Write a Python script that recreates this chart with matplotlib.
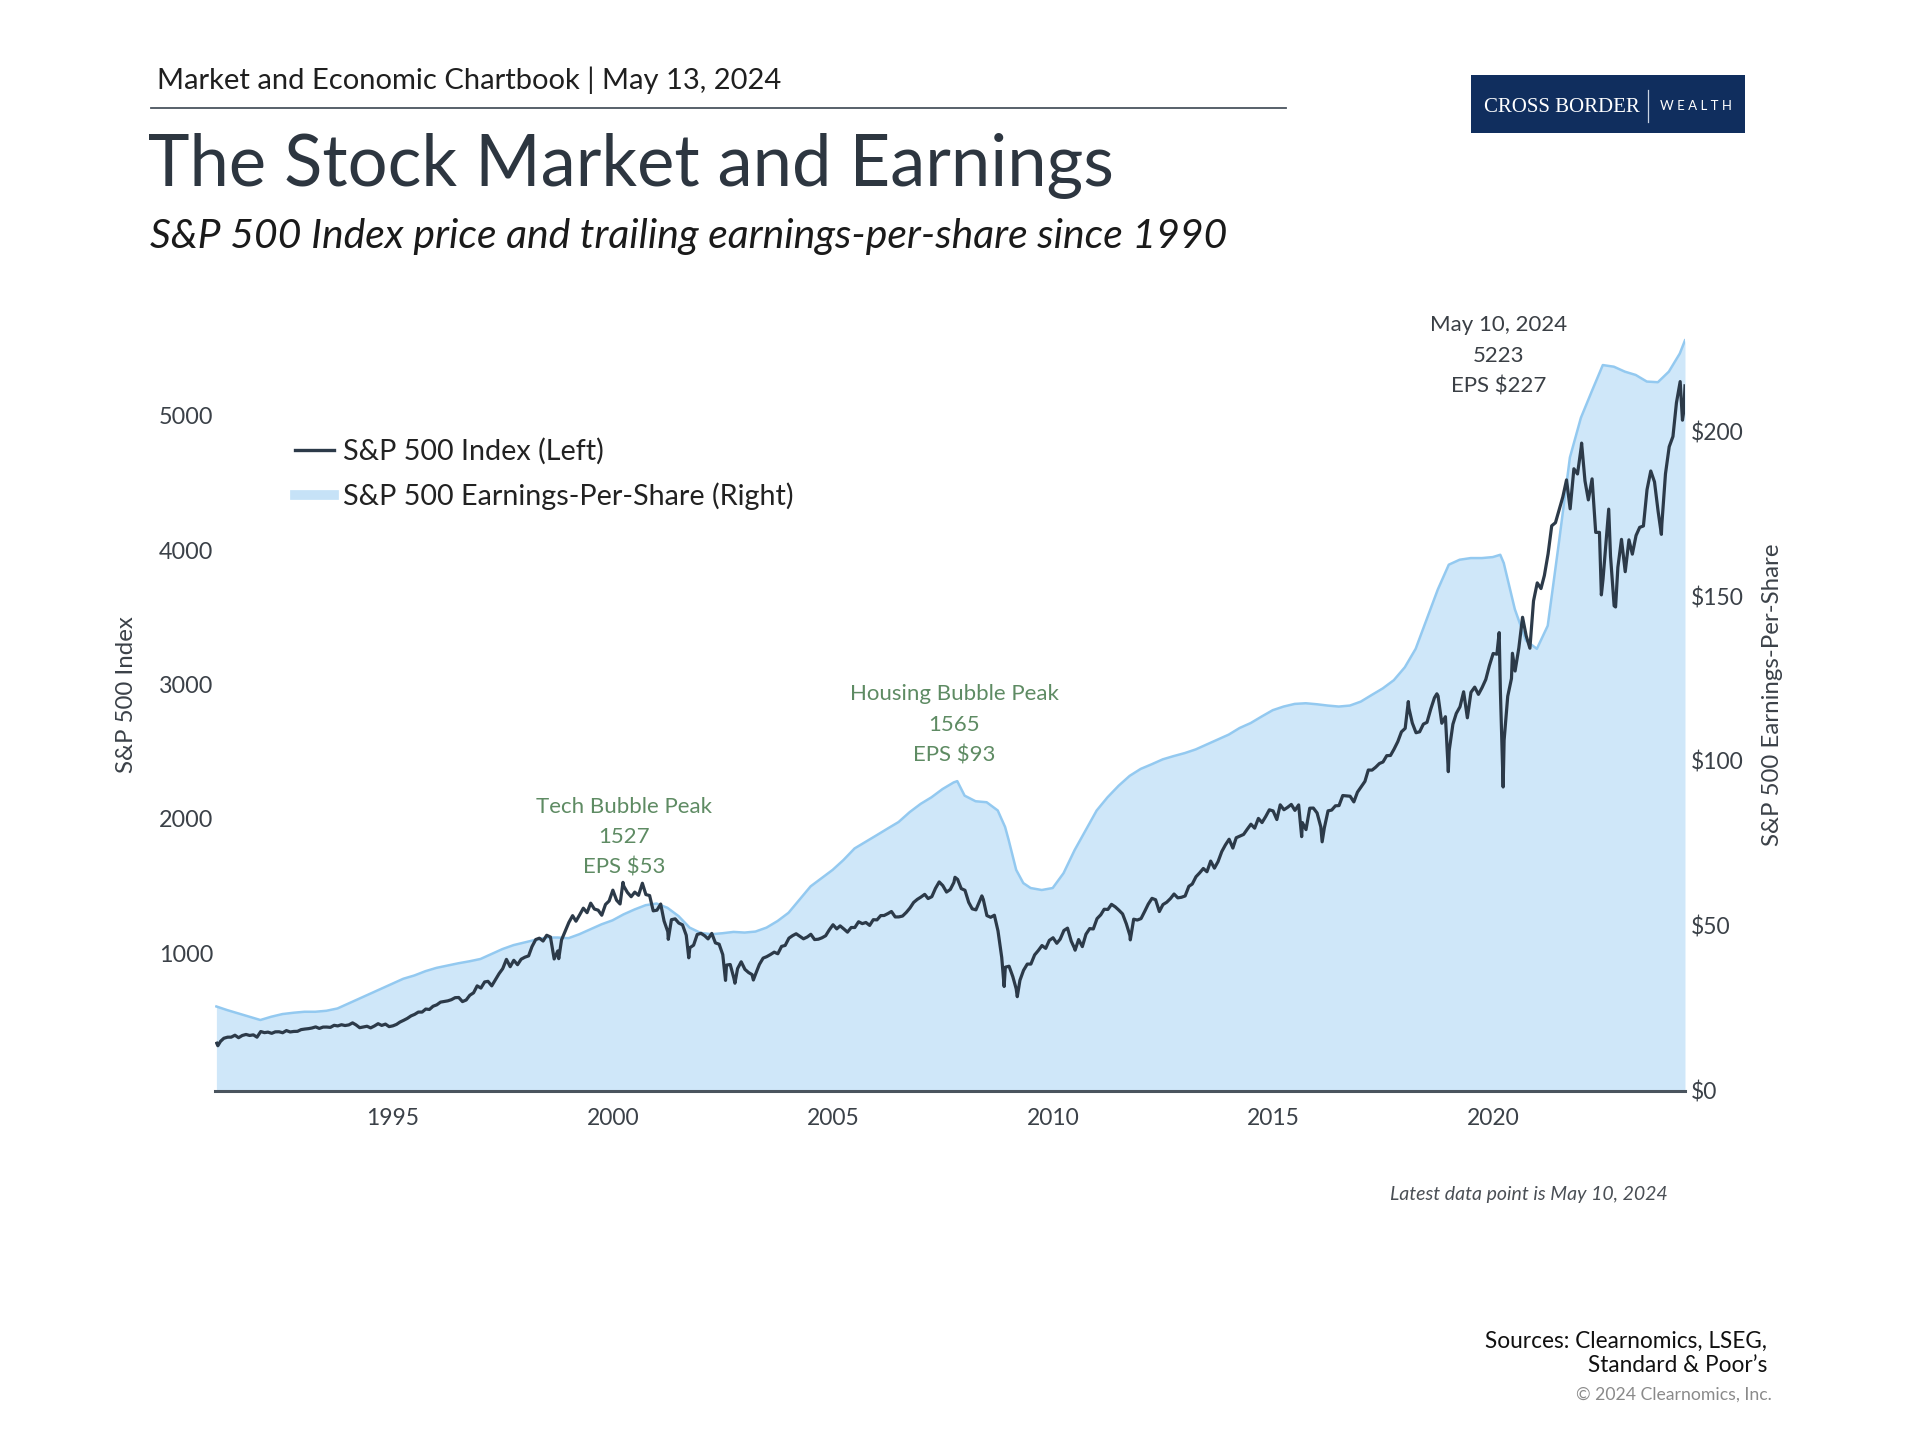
import matplotlib
matplotlib.use("Agg")
import matplotlib.pyplot as plt
from matplotlib.lines import Line2D
from matplotlib.patches import Rectangle
import pandas as pd

plt.rcParams['font.family'] = ['Lato', 'DejaVu Sans']

# S&P 500 month-end closes, Jan 1991 .. Apr 2024
spx_monthly = [
    343.9, 367.1, 375.2, 375.3, 389.8, 371.2, 387.8, 395.4, 387.9, 392.5, 375.2, 417.1,
    408.8, 412.7, 403.7, 414.9, 415.4, 408.1, 424.2, 414.0, 417.8, 418.7, 431.4, 435.7,
    438.8, 443.4, 451.7, 440.2, 450.2, 450.5, 448.1, 463.6, 458.9, 467.8, 461.8, 466.5,
    481.6, 467.1, 445.8, 450.9, 456.5, 444.3, 458.3, 475.5, 462.7, 472.4, 453.7, 459.3,
    470.4, 487.4, 500.7, 514.7, 533.4, 544.8, 562.1, 561.9, 584.4, 581.5, 605.4, 615.9,
    636.0, 640.4, 645.5, 654.2, 669.1, 670.6, 639.9, 652.0, 687.3, 705.3, 757.0, 740.7,
    786.2, 790.8, 757.1, 801.3, 848.3, 885.1, 954.3, 899.5, 947.3, 914.6, 955.4, 970.4,
    980.3, 1049.3, 1101.8, 1111.8, 1090.8, 1133.8, 1120.7, 957.3, 1017.0, 1098.7, 1163.6, 1229.2,
    1279.6, 1238.3, 1286.4, 1335.2, 1301.8, 1372.7, 1328.7, 1320.4, 1282.7, 1362.9, 1388.9, 1469.3,
    1394.5, 1366.4, 1498.6, 1452.4, 1420.6, 1454.6, 1430.8, 1517.7, 1436.5, 1429.4, 1315.2, 1320.3,
    1366.0, 1239.9, 1160.3, 1249.5, 1255.8, 1224.4, 1211.2, 1133.6, 1040.9, 1059.8, 1139.5, 1148.1,
    1130.2, 1106.7, 1147.4, 1076.9, 1067.1, 989.8, 911.6, 916.1, 815.3, 885.8, 936.3, 879.8,
    855.7, 841.2, 848.2, 916.9, 963.6, 974.5, 990.3, 1008.0, 996.0, 1050.7, 1058.2, 1111.9,
    1131.1, 1144.9, 1126.2, 1107.3, 1120.7, 1140.8, 1101.7, 1104.2, 1114.6, 1130.2, 1173.8, 1211.9,
    1181.3, 1203.6, 1180.6, 1156.9, 1191.5, 1191.3, 1234.2, 1220.3, 1228.8, 1207.0, 1249.5, 1248.3,
    1280.1, 1280.7, 1294.8, 1310.6, 1270.1, 1270.2, 1276.7, 1303.8, 1335.9, 1377.9, 1400.6, 1418.3,
    1438.2, 1406.8, 1420.9, 1482.4, 1530.6, 1503.4, 1455.3, 1474.0, 1526.8, 1549.4, 1481.1, 1468.4,
    1378.6, 1330.6, 1322.7, 1385.6, 1400.4, 1280.0, 1267.4, 1282.8, 1166.4, 968.8, 896.2, 903.3,
    825.9, 735.1, 797.9, 872.8, 919.1, 919.3, 987.5, 1020.6, 1057.1, 1036.2, 1095.6, 1115.1,
    1073.9, 1104.5, 1169.4, 1186.7, 1089.4, 1030.7, 1101.6, 1049.3, 1141.2, 1183.3, 1180.6, 1257.6,
    1286.1, 1327.2, 1325.8, 1363.6, 1345.2, 1320.6, 1292.3, 1218.9, 1131.4, 1253.3, 1247.0, 1257.6,
    1312.4, 1365.7, 1408.5, 1397.9, 1310.3, 1362.2, 1379.3, 1406.6, 1440.7, 1412.2, 1416.2, 1426.2,
    1498.1, 1514.7, 1569.2, 1597.6, 1630.7, 1606.3, 1685.7, 1633.0, 1681.6, 1756.5, 1805.8, 1848.4,
    1782.6, 1859.5, 1872.3, 1884.0, 1923.6, 1960.2, 1930.7, 2003.4, 1972.3, 2018.1, 2067.6, 2058.9,
    1995.0, 2104.5, 2067.9, 2085.5, 2107.4, 2063.1, 2103.8, 1972.2, 1920.0, 2079.4, 2080.4, 2043.9,
    1940.2, 1932.2, 2059.7, 2065.3, 2097.0, 2098.9, 2173.6, 2171.0, 2168.3, 2126.2, 2198.8, 2238.8,
    2278.9, 2363.6, 2362.7, 2384.2, 2411.8, 2423.4, 2470.3, 2471.7, 2519.4, 2575.3, 2647.6, 2673.6,
    2823.8, 2713.8, 2640.9, 2648.1, 2705.3, 2718.4, 2816.3, 2901.5, 2914.0, 2711.7, 2760.2, 2506.9,
    2704.1, 2784.5, 2834.4, 2945.8, 2752.1, 2941.8, 2980.4, 2926.5, 2976.7, 3037.6, 3141.0, 3230.8,
    3225.5, 2954.2, 2584.6, 2912.4, 3044.3, 3100.3, 3271.1, 3500.3, 3363.0, 3270.0, 3621.6, 3756.1,
    3714.2, 3811.2, 3972.9, 4181.2, 4204.1, 4297.5, 4395.3, 4522.7, 4307.5, 4605.4, 4567.0, 4766.2,
    4515.6, 4373.9, 4530.4, 4131.9, 4132.2, 3785.4, 4130.3, 3955.0, 3585.6, 3872.0, 4080.1, 3839.5,
    4076.6, 3970.2, 4109.3, 4169.5, 4179.8, 4450.4, 4589.0, 4507.7, 4288.1, 4193.8, 4567.8, 4769.8,
    4845.7, 5096.3, 5254.4, 5035.7,
]

# intra-month highs / lows and the latest point
spx_extra_dates = [
    "1990-12-31", "1991-01-09", "1998-10-08", "2000-03-24", "2000-09-01", "2001-04-04",
    "2001-09-21", "2002-07-23", "2002-10-09", "2003-03-11", "2007-10-09", "2008-05-19",
    "2008-11-20", "2009-03-09", "2010-07-02", "2011-10-03", "2015-08-25", "2016-02-11",
    "2018-01-26", "2018-09-20", "2018-12-24", "2020-02-19", "2020-03-23", "2020-06-08",
    "2022-01-03", "2022-06-16", "2022-08-16", "2022-10-12", "2023-10-27", "2024-04-19",
    "2024-05-10",
]
spx_extra_values = [
    330.2, 311.5, 959.4, 1527.5, 1520.8, 1103.3,
    965.8, 797.7, 776.8, 800.7, 1565.2, 1426.6,
    752.4, 676.5, 1022.6, 1099.2, 1867.6, 1829.1,
    2872.9, 2930.8, 2351.1, 3386.2, 2237.4, 3232.4,
    4796.6, 3666.8, 4305.2, 3577.0, 4117.4, 4967.2,
    5222.7,
]

# trailing 12-month earnings-per-share
eps_dates = [
    "1990-12", "1991-03", "1991-06", "1991-09", "1991-12", "1992-03", "1992-06", "1992-09", "1992-12",
    "1993-03", "1993-06", "1993-09", "1993-12", "1994-03", "1994-06", "1994-09", "1994-12",
    "1995-03", "1995-06", "1995-09", "1995-12", "1996-03", "1996-06", "1996-09", "1996-12",
    "1997-03", "1997-06", "1997-09", "1997-12", "1998-03", "1998-06", "1998-09", "1998-12",
    "1999-03", "1999-06", "1999-09", "1999-12", "2000-03", "2000-06", "2000-09", "2000-12",
    "2001-03", "2001-06", "2001-09", "2001-12", "2002-03", "2002-06", "2002-09", "2002-12",
    "2003-03", "2003-06", "2003-09", "2003-12", "2004-03", "2004-06", "2004-09", "2004-12",
    "2005-03", "2005-06", "2005-09", "2005-12", "2006-03", "2006-06", "2006-09", "2006-12",
    "2007-03", "2007-06", "2007-09", "2007-10", "2007-12", "2008-03", "2008-06", "2008-09",
    "2008-11", "2008-12", "2009-02", "2009-04", "2009-06", "2009-09", "2009-12",
    "2010-03", "2010-06", "2010-09", "2010-12", "2011-03", "2011-06", "2011-09", "2011-12",
    "2012-03", "2012-06", "2012-09", "2012-12", "2013-03", "2013-06", "2013-09", "2013-12",
    "2014-03", "2014-06", "2014-09", "2014-12", "2015-03", "2015-06", "2015-09", "2015-12",
    "2016-03", "2016-06", "2016-09", "2016-12", "2017-03", "2017-06", "2017-09", "2017-12",
    "2018-03", "2018-06", "2018-09", "2018-12", "2019-03", "2019-06", "2019-09", "2019-12",
    "2020-02", "2020-03", "2020-06", "2020-09", "2020-12", "2021-03", "2021-06", "2021-09",
    "2021-12", "2022-03", "2022-06", "2022-09", "2022-12", "2023-03", "2023-06", "2023-09",
    "2023-12", "2024-03", "2024-05-10",
]
eps_values = [
    25.6, 24.5, 23.5, 22.5, 21.5, 22.5, 23.3, 23.7, 24.0,
    24.0, 24.3, 25.0, 26.5, 28.0, 29.5, 31.0, 32.5,
    34.0, 35.0, 36.3, 37.3, 38.0, 38.7, 39.3, 40.0,
    41.5, 43.0, 44.2, 45.0, 45.8, 46.5, 46.5, 46.3,
    47.5, 49.0, 50.5, 51.7, 53.5, 55.0, 56.3, 56.8,
    55.5, 53.0, 49.5, 47.9, 47.5, 47.8, 48.2, 48.0,
    48.3, 49.5, 51.5, 54.0, 58.0, 62.0, 64.5, 67.0,
    70.0, 73.5, 75.5, 77.5, 79.5, 81.5, 84.5, 87.0,
    89.0, 91.5, 93.5, 93.9, 89.5, 87.8, 87.5, 85.0,
    80.0, 76.0, 67.0, 63.0, 61.5, 60.9, 61.5,
    66.0, 73.0, 79.0, 85.0, 89.0, 92.5, 95.5, 97.6,
    99.0, 100.5, 101.5, 102.4, 103.5, 105.0, 106.5, 108.0,
    110.0, 111.5, 113.5, 115.4, 116.5, 117.3, 117.5, 117.2,
    116.8, 116.5, 116.8, 118.0, 120.0, 122.0, 124.5, 128.4,
    134.0, 143.0, 152.0, 159.5, 161.0, 161.5, 161.5, 161.8,
    162.5, 160.0, 146.0, 136.5, 134.0, 141.0, 166.0, 192.0,
    204.0, 212.0, 220.0, 219.5, 218.0, 217.0, 215.0, 214.8,
    218.0, 223.5, 227.5,
]

year_ticks = [1995, 2000, 2005, 2010, 2015, 2020]
spx_ticks = [1000, 2000, 3000, 4000, 5000]
eps_ticks = [0, 50, 100, 150, 200]

# ---- series as dates
month_dates = pd.period_range("1991-01", periods=len(spx_monthly), freq="M").to_timestamp(how="end").normalize()
spx = pd.Series(spx_monthly, index=month_dates)
spx = pd.concat([spx, pd.Series(spx_extra_values, index=pd.to_datetime(spx_extra_dates))]).sort_index()

eps_idx = pd.to_datetime([d if len(d) > 7 else d + "-28" for d in eps_dates])
eps = pd.Series(eps_values, index=eps_idx)

fig = plt.figure(figsize=(19.2, 14.4), dpi=100)

ax_eps = fig.add_axes([0.1122, 0.2424, 0.7654, 0.527])
ax_spx = ax_eps.twinx()

ax_eps.fill_between(eps.index, eps.values, 0, color="#cfe7f9", lw=0)
ax_eps.plot(eps.index, eps.values, color="#93c9f0", lw=1.8)
ax_spx.plot(spx.index, spx.values, color="#2c3a49", lw=2.3)

xmin, xmax = pd.Timestamp("1990-12-20"), pd.Timestamp("2024-05-10")
ax_eps.set_xlim(xmin, xmax)
ax_eps.set_ylim(0, 230)
ax_spx.set_ylim(-25, 5623)

ax_eps.yaxis.tick_right()
ax_eps.yaxis.set_label_position("right")
ax_spx.yaxis.tick_left()
ax_spx.yaxis.set_label_position("left")

ax_eps.set_yticks(eps_ticks)
ax_eps.set_yticklabels(["$%d" % v for v in eps_ticks])
ax_spx.set_yticks(spx_ticks)
ax_spx.set_yticklabels([str(v) for v in spx_ticks])
ax_eps.set_xticks([pd.Timestamp("%d-01-01" % y) for y in year_ticks])
ax_eps.set_xticklabels([str(y) for y in year_ticks])

tick_col = "#3b4148"
ax_eps.tick_params(axis="y", length=0, pad=4, labelsize=16.5, labelcolor=tick_col)
ax_eps.tick_params(axis="x", length=0, pad=12, labelsize=16.5, labelcolor=tick_col)
ax_spx.tick_params(axis="y", length=0, pad=1.5, labelsize=16.8, labelcolor=tick_col)

for a in (ax_eps, ax_spx):
    for s in ("top", "left", "right"):
        a.spines[s].set_visible(False)
ax_spx.spines["bottom"].set_visible(False)
ax_eps.spines["bottom"].set_color("#4a545e")
ax_eps.spines["bottom"].set_linewidth(2.2)

ax_spx.set_ylabel("S&P 500 Index", fontsize=17.3, color=tick_col)
ax_spx.yaxis.set_label_coords(-0.0534, 0.5226)
ax_eps.set_ylabel("S&P 500 Earnings-Per-Share", fontsize=17.3, color=tick_col)
ax_eps.yaxis.set_label_coords(1.0525, 0.5226)

# annotations
green = "#5e8b63"
ax_spx.text(pd.Timestamp("2000-04-01"), 1565, "Tech Bubble Peak\n1527\nEPS $53", ha="center", va="bottom",
            fontsize=16, color=green, linespacing=1.65)
ax_spx.text(pd.Timestamp("2007-10-01"), 2400, "Housing Bubble Peak\n1565\nEPS $93", ha="center", va="bottom",
            fontsize=16, color=green, linespacing=1.65)
ax_spx.text(pd.Timestamp("2020-02-15"), 5140, "May 10, 2024\n5223\nEPS $227", ha="center", va="bottom",
            fontsize=16, color="#3a3f45", linespacing=1.68, clip_on=False)

handles = [Line2D([], [], color="#2c3a49", lw=2.4),
           Line2D([], [], color="#c6e2f7", lw=7)]
fig.legend(handles, ["S&P 500 Index (Left)", "S&P 500 Earnings-Per-Share (Right)"],
           loc="upper left", bbox_to_anchor=(0.1536, 0.696), frameon=False, fontsize=20.7,
           handlelength=1.35, handletextpad=0.32, labelspacing=0.63, borderpad=0, borderaxespad=0,
           labelcolor="#222222")

# header
fig.text(0.0818, 0.9442, "Market and Economic Chartbook | May 13, 2024", fontsize=21, color="#1f1f1f", va="center")
fig.add_artist(Line2D([0.0786, 0.670], [0.925, 0.925], color="#4a545e", lw=1.3))
fig.text(0.077, 0.885, "The Stock Market and Earnings", fontsize=50.8, color="#2d3640", va="center")
fig.text(0.078, 0.836, "S&P 500 Index price and trailing earnings-per-share since 1990", fontsize=29.4,
         style="italic", color="#1a1a1a", va="center")

# logo
fig.add_artist(Rectangle((0.7661, 0.9076), 0.1427, 0.0403, transform=fig.transFigure,
                         facecolor="#102e5e", edgecolor="none"))
fig.text(0.8135, 0.9255, "CROSS BORDER", fontsize=15, color="white", family="Liberation Serif",
         ha="center", va="center")
fig.add_artist(Line2D([0.8583, 0.8583], [0.9150, 0.9375], color="#c9d3e3", lw=0.9))
fig.text(0.8835, 0.9265, "W E A L T H", fontsize=9.5, color="white", ha="center", va="center")

# footer
fig.text(0.8688, 0.1708, "Latest data point is May 10, 2024", fontsize=14, style="italic",
         color="#4a4f55", ha="right", va="center")
fig.text(0.9203, 0.0602, "Sources: Clearnomics, LSEG,\nStandard & Poor\u2019s", fontsize=16.3, color="#111111",
         ha="right", va="center", linespacing=1.2)
fig.text(0.9229, 0.0313, "\u00a9 2024 Clearnomics, Inc.", fontsize=12.7, color="#8a8a8a", ha="right", va="center")

fig.savefig("out.png", dpi=100)
